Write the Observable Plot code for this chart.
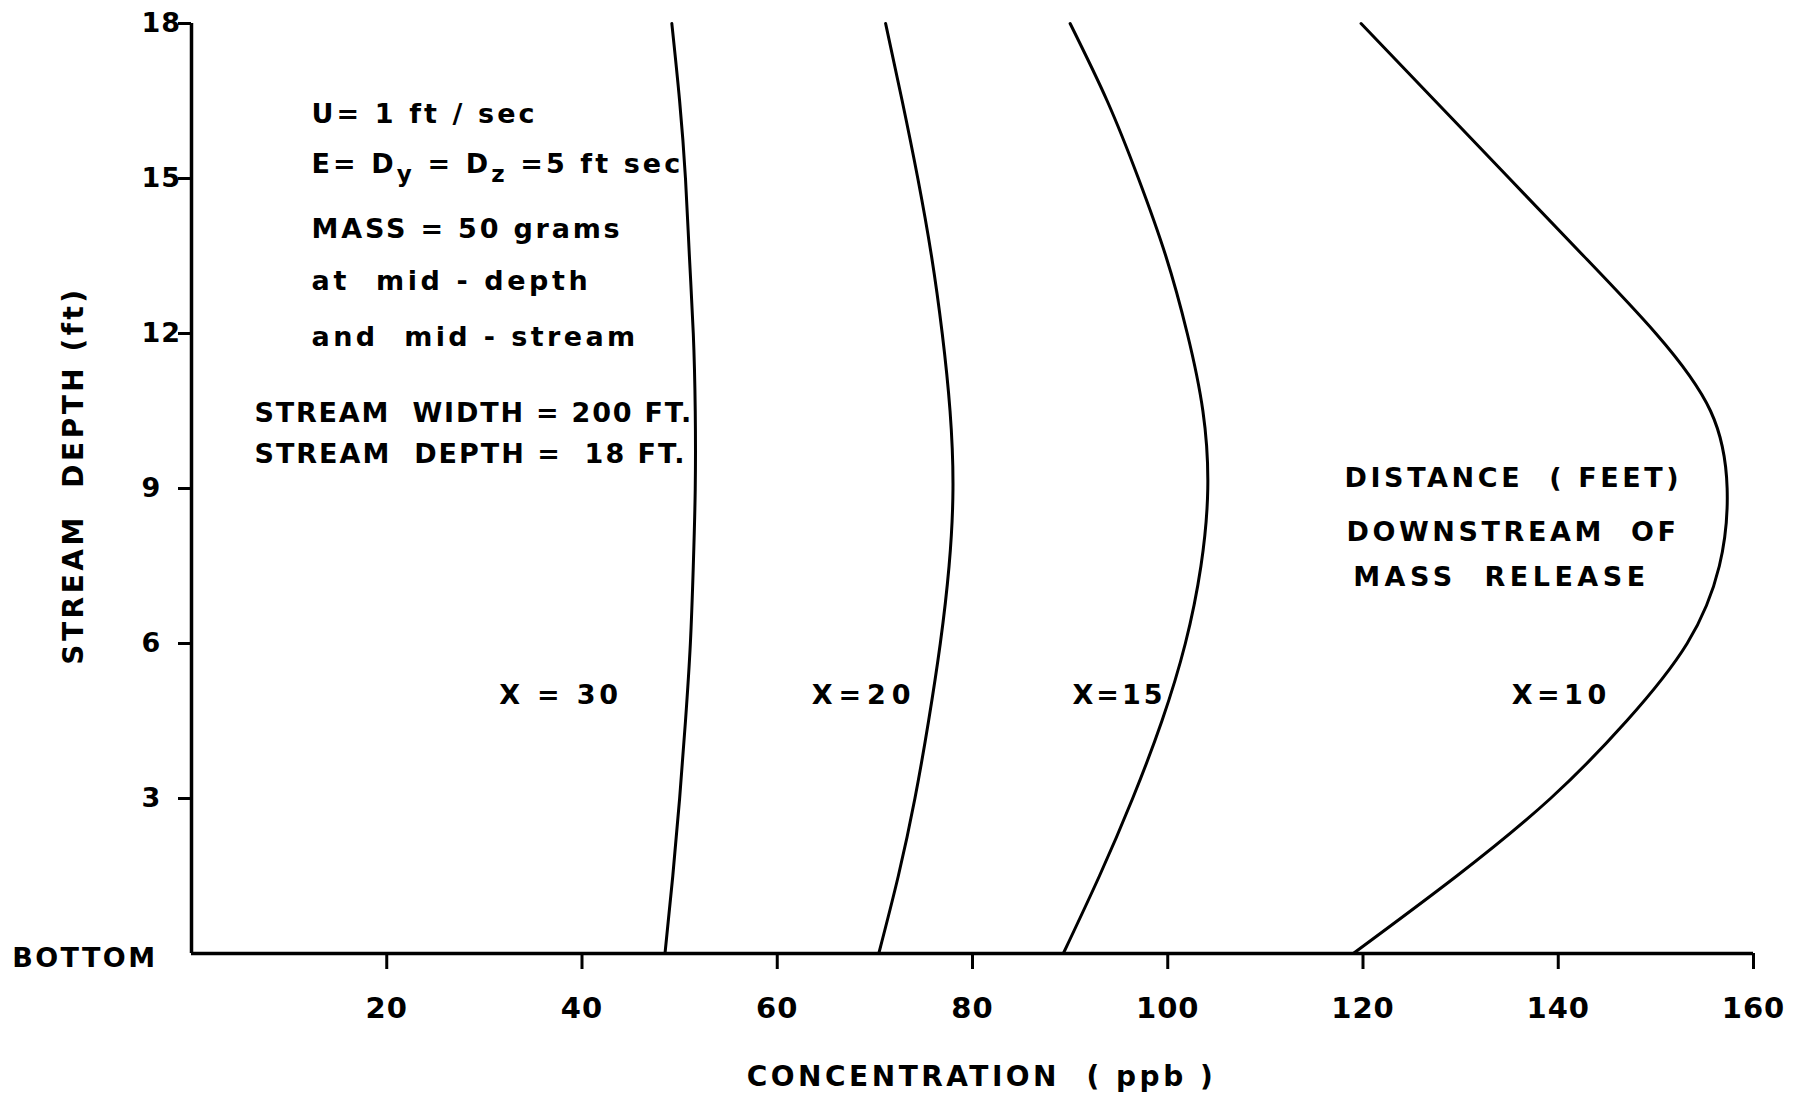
<!DOCTYPE html>
<html>
<head>
<meta charset="utf-8">
<script src="https://cdn.jsdelivr.net/npm/d3@7"></script>
<script src="https://cdn.jsdelivr.net/npm/@observablehq/plot@0.6"></script>
<style>
  html, body { margin: 0; padding: 0; background: #fff; }
  svg { font-family: "DejaVu Sans", sans-serif; font-weight: bold; }
  svg text { letter-spacing: 1px; }
</style>
</head>
<body>
<div id="chart"></div>
<script>
// Depth (ft) sample levels
const depths = [0, 1.5, 3, 4.5, 6, 7.5, 9, 10.5, 12, 13.5, 15, 16.5, 18];
// Concentration (ppb) at each depth, by distance downstream
const concX30 = [48.5, 49.3, 50.0, 50.6, 51.1, 51.4, 51.6, 51.6, 51.4, 51.0, 50.6, 50.0, 49.2];
const concX20 = [70.4, 72.4, 74.1, 75.5, 76.7, 77.6, 78.0, 77.7, 76.9, 75.8, 74.4, 72.8, 71.1];
const concX15 = [89.3, 93.0, 96.4, 99.4, 101.8, 103.4, 104.1, 103.6, 102.0, 99.8, 97.0, 93.8, 90.0];
const concX10 = [119.0, 129.6, 139.2, 147.0, 153.2, 156.5, 157.3, 155.6, 150.0, 142.6, 135.0, 127.4, 119.8];
const seriesNames = ["X = 30", "X = 20", "X = 15", "X = 10"];
const seriesConc = [concX30, concX20, concX15, concX10];

// Axis ticks
const xTicks = [20, 40, 60, 80, 100, 120, 140, 160];
const yTicks = [3, 6, 9, 12, 15, 18];

// Curve labels (text, concentration, depth)
const curveLabelText = ["X = 30", "X=20", "X=15", "X=10"];
const curveLabelConc = [37.8, 68.9, 95.0, 140.3];
const curveLabelDepth = [5.0, 5.0, 5.0, 5.0];

// Notes (text, concentration, depth)
const noteText = [
  "U= 1 ft / sec",
  "E= Dy = Dz =5 ft sec",
  "MASS = 50 grams",
  "at  mid - depth",
  "and  mid - stream",
  "STREAM  WIDTH = 200 FT.",
  "STREAM  DEPTH =  18 FT.",
  "DISTANCE  ( FEET)",
  "DOWNSTREAM  OF",
  "MASS  RELEASE"
];
const noteConc = [12.3, 12.3, 12.3, 12.3, 12.3, 6.45, 6.45, 118.1, 118.3, 119.0];
const noteDepth = [16.24, 15.27, 14.01, 13.0, 11.92, 10.45, 9.66, 9.19, 8.15, 7.28];

// Letter spacing (px) per text line
const spacing = new Map([
  ["U= 1 ft / sec", 3.1], ["E= Dy = Dz =5 ft sec", 3.1], ["MASS = 50 grams", 2.8],
  ["at  mid - depth", 3.6], ["and  mid - stream", 3.4], ["STREAM  WIDTH = 200 FT.", 1.8],
  ["STREAM  DEPTH =  18 FT.", 2], ["DISTANCE  ( FEET)", 3.6], ["DOWNSTREAM  OF", 3.6],
  ["MASS  RELEASE", 4.5], ["X = 30", 3.8], ["X=20", 6], ["X=15", 3], ["X=10", 4.5],
  ["BOTTOM", 2.4]
]);

const rows = [];
seriesNames.forEach((s, i) => depths.forEach((d, j) => rows.push({series: s, depth: d, conc: seriesConc[i][j]})));
const curveLabels = curveLabelText.map((t, i) => ({t, x: curveLabelConc[i], y: curveLabelDepth[i]}));
const notes = noteText.map((t, i) => ({t, x: noteConc[i], y: noteDepth[i]}));

const chart = Plot.plot({
  width: 1793,
  height: 1096,
  marginLeft: 191,
  marginRight: 40,
  marginTop: 23,
  marginBottom: 143,
  x: {domain: [0, 160]},
  y: {domain: [0, 18]},
  style: {background: "#fff", color: "#000"},
  marks: [
    Plot.ruleY([0], {x1: 0, x2: 160, strokeWidth: 3.5}),
    Plot.ruleX([0], {y1: 0, y2: 18, strokeWidth: 3.5}),
    Plot.axisX({ticks: xTicks, tickSize: 16, tickPadding: 28, fontSize: 29, strokeWidth: 3, label: null}),
    Plot.axisY({ticks: yTicks, tickSize: 13, tickPadding: 37, textAnchor: "start", fontSize: 27, strokeWidth: 3, label: null}),
    Plot.text(["BOTTOM"], {frameAnchor: "bottom-left", dx: -34, dy: 5, textAnchor: "end", lineAnchor: "middle", fontSize: 27}),
    Plot.text(["CONCENTRATION  ( ppb )"], {frameAnchor: "bottom", dx: 9, dy: 124, textAnchor: "middle", lineAnchor: "middle", fontSize: 28}),
    Plot.text(["STREAM  DEPTH (ft)"], {frameAnchor: "left", dx: -117, dy: -13, rotate: -90, textAnchor: "middle", lineAnchor: "middle", fontSize: 28}),
    Plot.line(rows, {x: "conc", y: "depth", z: "series", curve: "natural", strokeWidth: 3, stroke: "#000"}),
    Plot.text(curveLabels, {x: "x", y: "y", text: "t", fontSize: 27, textAnchor: "middle"}),
    Plot.text(notes, {x: "x", y: "y", text: "t", fontSize: 27, textAnchor: "start"})
  ]
});
document.getElementById("chart").appendChild(chart);

// Letter spacing tweaks and subscripts
d3.select(chart).selectAll("text").each(function () {
  const el = d3.select(this);
  const txt = this.textContent;
  if (spacing.has(txt)) el.style("letter-spacing", spacing.get(txt) + "px");
  if (txt.startsWith("CONCENTRATION") || txt.startsWith("STREAM  DEPTH (ft)")) el.style("letter-spacing", "3.5px");
  if (txt === "E= Dy = Dz =5 ft sec") {
    const parts = [["E= D", 0, 27], ["y", 9, 23], [" = D", -9, 27], ["z", 9, 23], [" =5 ft sec", -9, 27]];
    el.text(null);
    parts.forEach(([s, dy, fs]) => el.append("tspan").attr("dy", dy).attr("font-size", fs).text(s));
  }
});
</script>
</body>
</html>
